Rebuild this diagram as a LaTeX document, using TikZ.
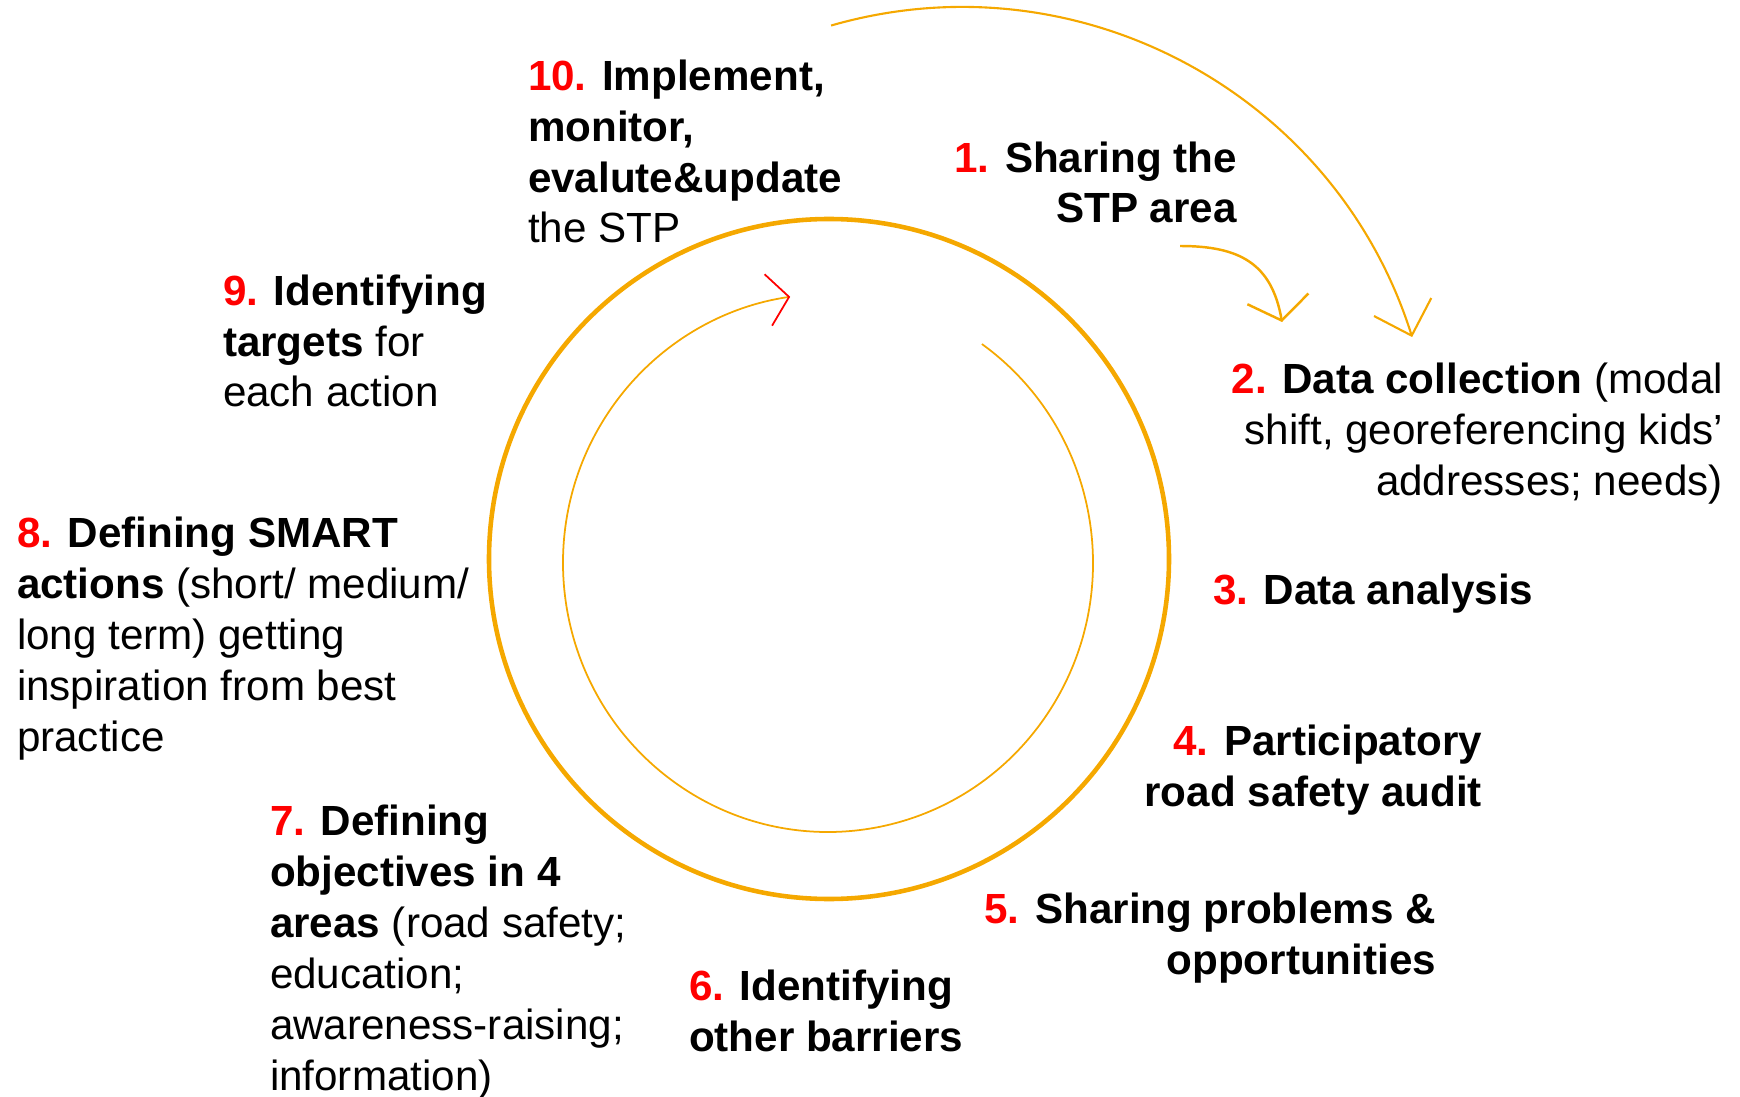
\documentclass[tikz,border=0pt]{standalone}
\usepackage{fontspec}
\setmainfont{Liberation Sans}
\usepackage{xcolor}
\usetikzlibrary{arrows.meta}

\definecolor{ringorange}{RGB}{245,168,0}
\definecolor{numred}{RGB}{255,0,0}
\newcommand{\stepno}[1]{\textcolor{numred}{\textbf{#1}}}

\begin{document}
\begin{tikzpicture}[
    font=\fontsize{12}{14.5}\selectfont,
    stage/.style={inner sep=0pt, outer sep=0pt},
    stageL/.style={stage, anchor=base west, align=left},
    stageR/.style={stage, anchor=base east, align=right},
    ring/.style={draw=ringorange, line width=1.3pt},
    loop/.style={draw=ringorange, line width=0.5pt},
    jump/.style={draw=ringorange, line width=0.6pt,
                 -{Straight Barb[length=3mm, width=6mm]}}
]
\useasboundingbox (0,0) rectangle (17.40,10.96);

% --- cycle: thick ring with the inner loop arrow ---
\coordinate (hub)  at (8.29,5.37);
\coordinate (core) at (8.28,5.33);
\draw[ring] (hub) circle[radius=3.40];
\draw[loop, -{Straight Barb[length=2.1mm, width=5.2mm, color=numred]}]
  ([shift={(54.5:2.65 and 2.69)}]core)
  arc[start angle=54.5, end angle=-261.8, x radius=2.65, y radius=2.69];

% --- arrows into step 2 ---
\coordinate (swing)   at (9.62,6.17);
\coordinate (handoff) at (11.80,8.50);
\coordinate (datain)  at (12.82,7.74);
\draw[jump] ([shift={(106.1:4.72)}]swing)
  arc[start angle=106.1, end angle=17.5, radius=4.72];
\draw[jump, line width=0.7pt, -{Straight Barb[length=2.2mm, width=6.2mm]}]
  (handoff) to[out=0, in=100, looseness=1.2] (datain);

% --- steps, clockwise from the top (base = last line) ---
\node[stageR] (s1) at (12.37,8.73)
  {\stepno{1.} \textbf{Sharing the}\\ \textbf{STP area}};
\node[stageR] (s2) at (17.23,6.01)
  {\stepno{2.} \textbf{Data collection} (modal\\ shift, georeferencing kids’\\ addresses; needs)};
\node[stageL] (s3) at (12.13,4.92)
  {\stepno{3.} \textbf{Data analysis}};
\node[stageR] (s4) at (14.82,2.90)
  {\stepno{4.} \textbf{Participatory}\\ \textbf{road safety audit}};
\node[stageR] (s5) at (14.36,1.22)
  {\stepno{5.} \textbf{Sharing problems \&}\\ \textbf{opportunities}};
\node[stageL] (s6) at (6.89,0.45)
  {\stepno{6.} \textbf{Identifying}\\ \textbf{other barriers}};
\node[stageL] (s7) at (2.70,0.06)
  {\stepno{7.} \textbf{Defining}\\ \textbf{objectives in 4}\\ \textbf{areas} (road safety;\\ education;\\ awareness-raising;\\ information)};
\node[stageL] (s8) at (0.17,3.45)
  {\stepno{8.} \textbf{Defining SMART}\\ \textbf{actions} (short/ medium/\\ long term) getting\\ inspiration from best\\ practice};
\node[stageL] (s9) at (2.23,6.89)
  {\stepno{9.} \textbf{Identifying}\\ \textbf{targets} for\\ each action};
\node[stageL] (s10) at (5.28,8.53)
  {\stepno{10.} \textbf{Implement,}\\ \textbf{monitor,}\\ \textbf{evalute\&update}\\ the STP};

\end{tikzpicture}
\end{document}
